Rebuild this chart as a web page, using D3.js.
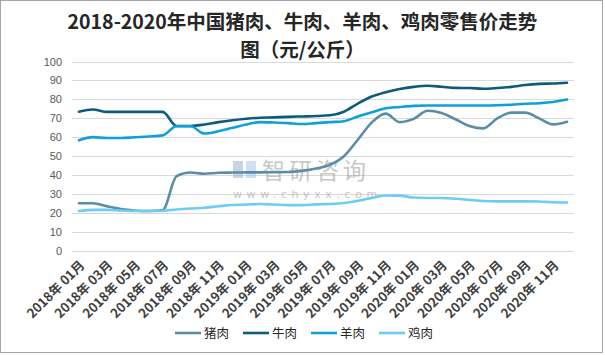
<!DOCTYPE html>
<html><head><meta charset="utf-8">
<script src="https://cdn.jsdelivr.net/npm/d3@7"></script>
<style>body{margin:0;background:#fff}svg{display:block}</style>
</head><body><svg id="c" width="605" height="355"></svg>
<script>
const months = [];
for (const yr of [2018, 2019, 2020]) for (let m = 1; m <= 12; m++) months.push(yr + "年 " + String(m).padStart(2, "0") + "月");
const tickLabels = months.filter((d, i) => i % 2 === 0);
const seriesNames = ["猪肉", "牛肉", "羊肉", "鸡肉"];
const pork = [25.2,25.2,23.6,22.2,21.4,21.1,21.5,39.5,41.4,40.8,41.3,41.4,41.5,41.5,41.6,41.7,42.3,43.5,45.5,50,58.7,67.9,72.5,68,69.7,74,72.8,69.5,66,64.7,70,73,73,70,66.8,68.2];
const beef = [73.5,74.7,73.4,73.4,73.4,73.4,73.4,66,66,66.8,68,69,69.8,70.3,70.5,70.8,71,71.2,71.6,73.5,77.8,81.5,83.8,85.5,86.6,87.2,86.7,86.1,86,85.6,86,86.6,87.6,88.2,88.4,88.8];
const lamb = [58.4,60.1,59.6,59.6,60,60.4,61,65.8,65.8,62,63.2,65,66.8,68,67.8,67.5,67,67.5,68,68.5,71,73.2,75.3,76,76.6,76.8,76.8,76.8,76.8,76.8,76.9,77.2,77.7,78,78.6,79.9];
const chicken = [21.1,21.7,21.7,21.4,21.1,21.1,21.2,21.9,22.4,22.8,23.6,24.3,24.5,24.8,24.5,24.2,24.2,24.6,24.8,25.3,26.5,28,29.3,29.2,28.2,28,28,27.6,27,26.4,26.2,26.2,26.2,26.1,25.7,25.6];
const yTicks = [0,10,20,30,40,50,60,70,80,90,100];
const colors = ["#5b8ea6", "#0b5b7d", "#0ea1d9", "#6bcdf4"];
const data = [pork, beef, lamb, chicken];

const svg = d3.select("#c");
svg.append("rect").attr("x",0.5).attr("y",0.5).attr("width",602).attr("height",352)
  .attr("fill","#fff").attr("stroke","#a6a6a6");

const mLeft = 72, mRight = 574, mTop = 61.5, mBottom = 251;
const x = d3.scalePoint().domain(months).range([mLeft, mRight]).padding(0.5);
const y = d3.scaleLinear().domain([0, 100]).range([mBottom, mTop]);

// title
const titleLines = ["2018-2020年中国猪肉、牛肉、羊肉、鸡肉零售价走势", "图（元/公斤）"];
svg.append("g").selectAll("text").data(titleLines).join("text")
  .attr("x",302.5).attr("y",(d,i)=>29 + i*27.5).attr("text-anchor","middle")
  .attr("font-family","'Noto Sans CJK SC', sans-serif")
  .attr("font-weight","bold").attr("font-size",19.5).attr("fill","#262626").text(d=>d);

// gridlines
svg.append("g").selectAll("line").data(yTicks).join("line")
  .attr("x1",mLeft).attr("x2",mRight).attr("y1",d=>Math.round(y(d))+0.5).attr("y2",d=>Math.round(y(d))+0.5)
  .attr("stroke","#d9d9d9").attr("stroke-width",1);

// y axis labels
const ya = svg.append("g").attr("transform",`translate(${mLeft},0)`)
  .call(d3.axisLeft(y).tickValues(yTicks).tickSize(0).tickPadding(10));
ya.select(".domain").remove();
ya.selectAll("text").attr("font-family","'Liberation Sans', Arial, sans-serif").attr("font-size",11).attr("fill","#595959");

// x axis labels
const xa = svg.append("g").attr("transform",`translate(0,${mBottom})`)
  .call(d3.axisBottom(x).tickValues(tickLabels).tickSize(0).tickPadding(0));
xa.select(".domain").remove();
xa.selectAll("text").attr("font-family","'Noto Sans CJK SC', sans-serif").attr("font-weight","bold")
  .attr("font-size",13).attr("fill","#404040").attr("text-anchor","end")
  .attr("dy",0).attr("y",0).attr("transform","translate(6,15) rotate(-45)");

// watermark
const wm = svg.append("g").attr("opacity",0.55);
wm.append("rect").attr("x",233).attr("y",161).attr("width",10).attr("height",17).attr("fill","#9fb0d0");
wm.append("rect").attr("x",246).attr("y",161).attr("width",10).attr("height",17).attr("fill","#a8c8e8");
wm.append("text").attr("x",262).attr("y",179).attr("font-family","'Noto Sans CJK SC', sans-serif")
  .attr("font-size",23).attr("fill","#9a9a9a").attr("letter-spacing",4).text("智研咨询");
wm.append("text").attr("x",233).attr("y",198).attr("font-family","'DejaVu Sans', sans-serif")
  .attr("font-size",11).attr("fill","#9a9a9a").attr("letter-spacing",4.6).text("www.chyxx.com");

// lines
const line = d3.line().x((d,i)=>x(months[i])).y(d=>y(d)).curve(d3.curveMonotoneX);
svg.append("g").selectAll("path").data(data).join("path")
  .attr("d", line).attr("fill","none").attr("stroke",(d,i)=>colors[i])
  .attr("stroke-width",2.6).attr("stroke-linejoin","round").attr("stroke-linecap","round");

// legend
const lg = svg.append("g").selectAll("g").data(seriesNames).join("g")
  .attr("transform",(d,i)=>`translate(${175 + i*68},333)`);
lg.append("line").attr("x1",0).attr("x2",26).attr("y1",0).attr("y2",0)
  .attr("stroke",(d,i)=>colors[i]).attr("stroke-width",2.6);
lg.append("text").attr("x",29).attr("y",0).attr("dy","0.36em").attr("font-family","'Noto Sans CJK SC', sans-serif")
  .attr("font-size",12.5).attr("fill","#262626").text(d=>d);
</script></body></html>
